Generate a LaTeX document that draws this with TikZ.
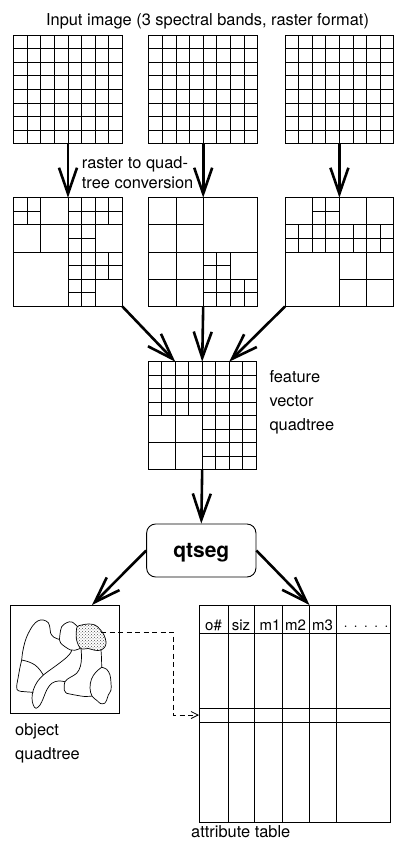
\documentclass[tikz,border=0pt]{standalone}
\usepackage{fontspec}
\setmainfont{TeX Gyre Heros}
\usetikzlibrary{arrows.meta,patterns,calc}

\begin{document}
\begin{tikzpicture}[x=1pt,y=-1pt,
  thin line/.style={line width=0.9pt},
  gridbox/.style={draw, line width=0.9pt, inner sep=0pt, outer sep=0pt, anchor=north west},
  flow/.style={line width=2.6pt, -{Straight Barb[length=26pt,width=18pt]}},
  link/.style={line width=0.8pt, dash pattern=on 5pt off 3.5pt, -{Straight Barb[length=7pt,width=7pt]}},
  lbl/.style={inner sep=0pt, font=\fontsize{16.4}{19.7}\selectfont},
  hdr/.style={inner sep=0pt, anchor=base, font=\fontsize{15}{18}\selectfont},
  region/.style={line width=0.7pt, line join=round}]

\useasboundingbox (0,0) rectangle (394,846);
\def\cs{13.6}

% ---------- raster bands ----------
\node[lbl, anchor=base] (title) at (207.5,25) {Input image (3 spectral bands, raster format)};
\foreach \n/\x in {r1/13.6, r2/148.8, r3/285} {
  \node[gridbox, minimum width=108.8pt, minimum height=108.8pt] (\n) at (\x,35) {};
  \begin{scope}[shift={(\n.north west)}]
    \foreach \i in {1,...,7} {
      \draw[thin line] (\i*\cs,0) -- (\i*\cs,108.8);
      \draw[thin line] (0,\i*\cs) -- (108.8,\i*\cs);
    }
  \end{scope}
}

% ---------- band quadtrees ----------
\foreach \n/\x in {q1/13.6, q2/148.8, q3/285}
  \node[gridbox, minimum width=108.8pt, minimum height=108.8pt] (\n) at (\x,197.7) {};

\begin{scope}[shift={(q1.north west)}]
  \foreach \c/\r/\s in {0/0/1,1/0/1,0/1/1,1/1/1,2/0/2,0/2/2,2/2/2,
      4/0/1,5/0/1,6/0/1,7/0/1,4/1/1,5/1/1,6/1/1,7/1/1,4/2/1,5/2/1,4/3/1,5/3/1,6/2/2,
      0/4/4,
      4/4/1,5/4/1,6/4/1,7/4/1,4/5/1,5/5/1,6/5/1,7/5/1,4/6/1,5/6/1,4/7/1,5/7/1,6/6/2}
    \draw[thin line] (\c*\cs,\r*\cs) rectangle ++(\s*\cs,\s*\cs);
\end{scope}
\begin{scope}[shift={(q2.north west)}]
  \foreach \c/\r/\s in {0/0/2,2/0/2,0/2/2,2/2/2,4/0/4,
      0/4/2,2/4/2,0/6/2,2/6/2,
      4/4/1,5/4/1,4/5/1,5/5/1,6/4/2,
      4/6/1,5/6/1,6/6/1,7/6/1,4/7/1,5/7/1,6/7/1,7/7/1}
    \draw[thin line] (\c*\cs,\r*\cs) rectangle ++(\s*\cs,\s*\cs);
\end{scope}
\begin{scope}[shift={(q3.north west)}]
  \foreach \c/\r/\s in {0/0/2,2/0/1,3/0/1,2/1/1,3/1/1,
      0/2/1,1/2/1,2/2/1,3/2/1,0/3/1,1/3/1,2/3/1,3/3/1,
      4/0/2,6/0/2,
      4/2/1,5/2/1,6/2/1,7/2/1,4/3/1,5/3/1,6/3/1,7/3/1,
      0/4/4,4/4/2,6/4/2,4/6/2,6/6/2}
    \draw[thin line] (\c*\cs,\r*\cs) rectangle ++(\s*\cs,\s*\cs);
\end{scope}

\node[lbl, anchor=base west] (conv1) at (81.7,168) {raster to quad-};
\node[lbl, anchor=base west] (conv2) at (81.7,188) {tree conversion};

\draw[flow] (r1.south) -- (q1.north);
\draw[flow] (r2.south) -- (q2.north);
\draw[flow] (r3.south) -- (q3.north);

% ---------- feature vector quadtree ----------
\def\fs{13.5}
\node[gridbox, minimum width=108pt, minimum height=108pt] (f) at (148.2,361.7) {};
\begin{scope}[shift={(f.north west)}]
  \foreach \r in {0,...,3} \foreach \c in {0,...,7}
    \draw[thin line] (\c*\fs,\r*\fs) rectangle ++(\fs,\fs);
  \foreach \c/\r in {0/4,2/4,0/6,2/6}
    \draw[thin line] (\c*\fs,\r*\fs) rectangle ++(2*\fs,2*\fs);
  \foreach \r in {4,...,7} \foreach \c in {4,...,7}
    \draw[thin line] (\c*\fs,\r*\fs) rectangle ++(\fs,\fs);
\end{scope}
\coordinate (f2) at ($(f.north west)+(2*\fs,0)$);
\coordinate (f6) at ($(f.north west)+(6*\fs,0)$);

\node[lbl, anchor=base west] (fl1) at (269.3,382.7) {feature};
\node[lbl, anchor=base west] (fl2) at (269.3,406.3) {vector};
\node[lbl, anchor=base west] (fl3) at (269.3,430) {quadtree};

\draw[flow] (q1.south east) -- (f2);
\draw[flow] (q2.south) -- (f.north);
\draw[flow] (q3.south west) -- (f6);

% ---------- segmentation ----------
\node[draw, line width=0.9pt, rounded corners=9pt, minimum width=109.3pt, minimum height=53pt,
      inner sep=0pt, text height=14pt, text depth=0pt,
      font=\fontsize{21}{24}\selectfont\bfseries] (qt) at (201.3,550.5) {qtseg};
\draw[flow] (f.south) -- (qt.north);

% ---------- object quadtree ----------
\node[gridbox, minimum width=109pt, minimum height=108pt] (obj) at (10,605) {};
\coordinate (objin) at (92,605);
\draw[flow] (qt.west) -- (objin);

% object outlines
\draw[region] plot[smooth, tension=0.6] coordinates {(21.7,660) (22.7,651.7) (25,641.7) (28.3,633.3) (33.3,625) (38.3,620.7) (43.3,620) (48.3,622.7) (50,628.3) (50.7,633.3) (54,637.3) (59.5,639.5)};
\draw[region] plot[smooth, tension=0.6] coordinates {(59.5,639.5) (60,634) (61.7,626.7) (66.7,622.7) (72,622) (77.3,626.5)};
\draw[region] plot[smooth, tension=0.6] coordinates {(59.5,639.5) (60.7,643) (65,646.7) (70.7,650) (75,650.2) (80,648.5)};
\draw[region] plot[smooth, tension=0.6] coordinates {(21.7,660) (28.3,661.7) (35,665) (40,670) (43.3,675)};
\draw[region] plot[smooth, tension=0.6] coordinates {(43.3,675) (50,670) (58.3,664) (66.7,657.3) (70.7,652.7) (71.7,650)};
\draw[region] plot[smooth, tension=0.6] coordinates {(21.7,660) (20,667.3) (18.3,676.7) (16.7,686.7) (18.3,690.7) (25,691.7) (33.3,692.3)};
\draw[region] plot[smooth, tension=0.6] coordinates {(43.3,675) (37.3,681.7) (33.3,690) (32,698.3) (33.3,705) (36,708.3) (40,705) (43.3,698.3) (46.7,690) (51.7,683.3) (58.3,681) (65,681.7)};
\draw[region] plot[smooth, tension=0.6] coordinates {(81,648.5) (81.5,657) (80.5,666) (76.7,673.3) (70,677.5) (65,681.7) (64.3,690) (66.7,693.3)};
\draw[region] plot[smooth, tension=0.6] coordinates {(66.7,693.3) (75,695) (85,696.5) (92,696)};
\draw[region] plot[smooth, tension=0.6] coordinates {(101,650) (101.5,658) (101.7,667.3)};
\draw[region] plot[smooth, tension=0.6] coordinates {(101.7,667.3) (106.7,669.3) (110,675) (111,683) (111,690) (108.3,695) (106.7,700) (104.5,703.3) (100.5,703.5) (97,700.5) (92,696) (90,688) (91.5,679) (96,672) (101.7,667.3)};
% shaded object
\draw[region, pattern=crosshatch dots, pattern color=black!70] plot[smooth cycle, tension=0.6] coordinates {(77.3,626.7) (81.7,625) (88.3,624) (95,625) (100,629.3) (104,635) (106,641.7) (105,646.7) (101,650) (95,650.3) (88.3,648.5) (81.7,649) (78.3,645) (76.3,638.3) (76.3,631.7)};
\coordinate (spot) at (101,632);

\node[lbl, anchor=base west] (ol1) at (15,735.7) {object};
\node[lbl, anchor=base west] (ol2) at (15,759) {quadtree};

% ---------- attribute table ----------
\node[gridbox, minimum width=191pt, minimum height=217pt] (tab) at (199,605) {};
\begin{scope}[shift={(tab.north west)}]
  \foreach \x in {29,55,83,110,137}
    \draw[thin line] (\x,0) -- (\x,217);
  \foreach \y in {28,103,117}
    \draw[thin line] (0,\y) -- (191,\y);
\end{scope}
\coordinate (tabin) at (309.5,605);
\draw[flow] (qt.east) -- (tabin);

\node[hdr] (h1) at (213.5,630.3) {o\#};
\node[hdr] (h2) at (241,630.3) {siz};
\node[hdr] (h3) at (270,630.3) {m1};
\node[hdr] (h4) at (295.5,630.3) {m2};
\node[hdr] (h5) at (322.5,630.3) {m3};
\node[hdr] (h6) at (366,630.3) {·\kern6pt·\kern6pt·\kern6pt·\kern6pt·};

\coordinate (jog) at (173,632);
\coordinate (rowin) at (199,715);
\draw[link] (spot) -- (jog) |- (rowin);

\node[lbl, anchor=base west] (tl) at (191,837.7) {attribute table};
\end{tikzpicture}
\end{document}
